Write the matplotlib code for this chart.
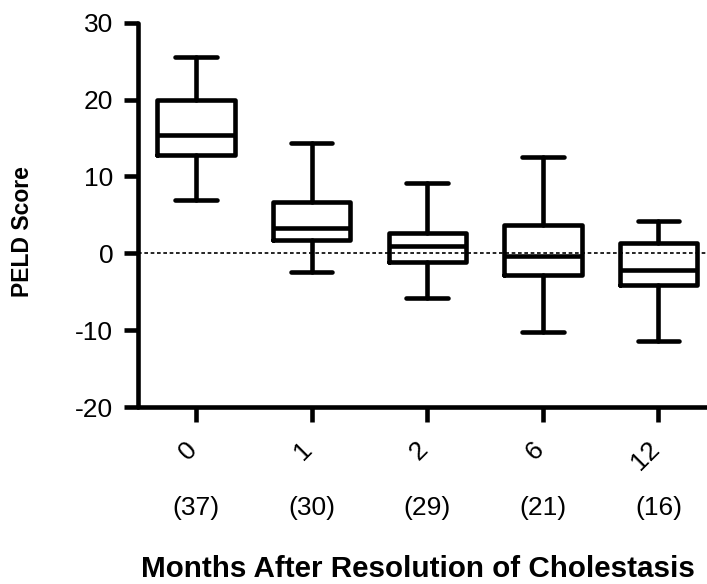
import matplotlib
matplotlib.use("Agg")
import matplotlib.pyplot as plt
import matplotlib.transforms as mtransforms

plt.rcParams["font.family"] = ["Liberation Sans", "DejaVu Sans"]
plt.rcParams["axes.unicode_minus"] = False

# Box plot summary (PELD score)
months = ["0", "1", "2", "6", "12"]
counts = ["(37)", "(30)", "(29)", "(21)", "(16)"]
whisker_low = [6.9, -2.4, -5.8, -10.3, -11.4]
q1 = [12.8, 1.8, -1.1, -2.8, -4.1]
median = [15.4, 3.3, 0.95, -0.35, -2.2]
q3 = [19.9, 6.7, 2.6, 3.7, 1.4]
whisker_high = [25.6, 14.4, 9.1, 12.6, 4.2]


def main():
    fig = plt.figure(figsize=(7.07, 5.84), dpi=100)
    ax = fig.add_axes([0.1956, 0.303, 0.8174, 0.658])

    stats = []
    for i in range(len(months)):
        stats.append({
            "whislo": whisker_low[i], "q1": q1[i], "med": median[i],
            "q3": q3[i], "whishi": whisker_high[i], "fliers": [],
        })

    lw = 3.3
    line_style = dict(color="black", linewidth=lw, solid_capstyle="round",
                      solid_joinstyle="round")
    ax.bxp(stats, positions=range(len(months)), widths=0.67, capwidths=0.36,
           boxprops=line_style, whiskerprops=line_style, capprops=line_style,
           medianprops=dict(color="black", linewidth=lw, solid_capstyle="butt"),
           showfliers=False, manage_ticks=False)

    # reference line at zero
    ax.axhline(0, color="black", linewidth=1.2, linestyle=(0, (2.2, 1.6)), zorder=0)

    ax.set_xlim(-0.5, 4.5)
    ax.set_ylim(-20, 30)
    ax.set_yticks([-20, -10, 0, 10, 20, 30])

    ax.spines["top"].set_visible(False)
    ax.spines["right"].set_visible(False)
    for s in ("left", "bottom"):
        ax.spines[s].set_linewidth(lw)
        ax.spines[s].set_capstyle("round")

    ax.tick_params(axis="y", direction="out", length=10, width=lw, pad=8,
                   labelsize=19)
    ax.tick_params(axis="x", direction="out", length=10.5, width=lw, pad=17,
                   labelsize=19)
    ax.set_xticks(range(len(months)))
    ax.set_xticklabels(months, rotation=45, ha="right", va="center",
                       rotation_mode="anchor")
    shift = mtransforms.ScaledTranslation(-3 / 100, 0, fig.dpi_scale_trans)
    for lab in ax.get_xticklabels():
        lab.set_transform(lab.get_transform() + shift)

    trans = mtransforms.blended_transform_factory(ax.transData, fig.transFigure)
    for i, c in enumerate(counts):
        ax.text(i, (584 - 508) / 584, c, transform=trans, ha="center",
                va="center", fontsize=19)

    fig.text(23 / 707, (584 - 232) / 584, "PELD Score", rotation=90,
             ha="center", va="center", fontsize=16.5, fontweight="bold")
    fig.text(141 / 707, (584 - 577) / 584, "Months After Resolution of Cholestasis",
             ha="left", va="baseline", fontsize=21.3, fontweight="bold")

    fig.savefig("out.png", dpi=100)


if __name__ == "__main__":
    main()
